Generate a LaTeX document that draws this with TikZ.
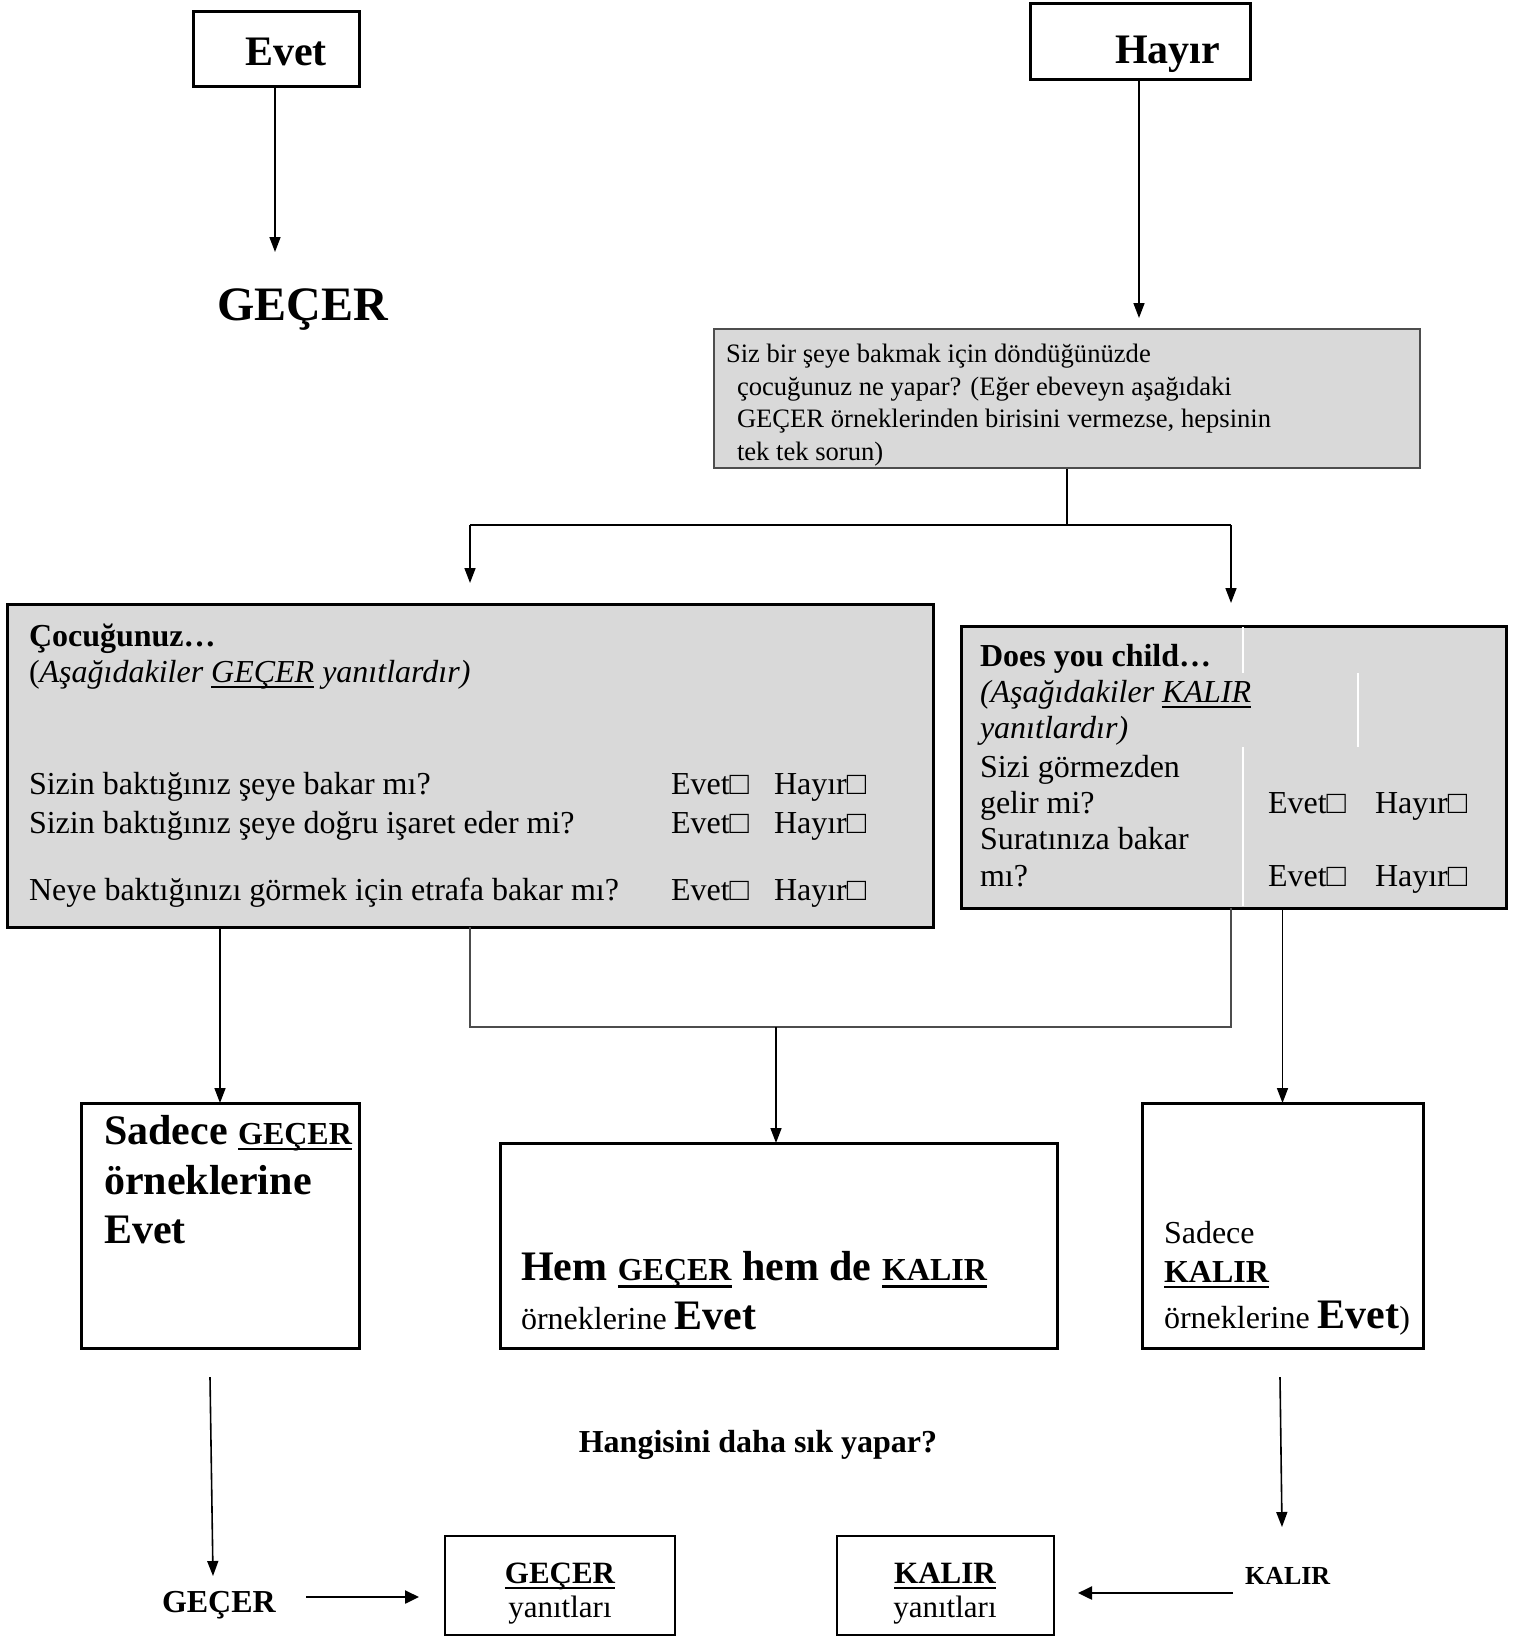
\documentclass[tikz,border=0pt]{standalone}
\usepackage{fontspec}
\setmainfont{Liberation Serif}
\usetikzlibrary{arrows.meta,fit}
\definecolor{boxgray}{HTML}{D9D9D9}
\definecolor{framegray}{HTML}{4D4D4D}
% font size in pt (1 px of the drawing = 0.5pt)
\newcommand{\fsz}[1]{\fontsize{#1}{#1}\selectfont}
% underline with a rule placed a fixed distance below the baseline
\newcommand{\ulin}[2][0.06em]{\setbox0\hbox{#2}\rlap{\rule[-0.19em]{\wd0}{#1}}\box0\relax}
\newcommand{\chk}{□}
\begin{document}
\begin{tikzpicture}[x=0.5pt,y=-0.5pt,
  box/.style={draw, line width=1.5pt, inner sep=0pt, outer sep=0pt},
  gbox/.style={box, fill=boxgray},
  sbox/.style={draw, line width=1.2pt, inner sep=0pt, outer sep=0pt},
  txt/.style={anchor=base west, inner sep=0pt, outer sep=0pt},
  ctxt/.style={anchor=base, inner sep=0pt, outer sep=0pt},
  conn/.style={line width=0.8pt},
  lconn/.style={line width=0.6pt, black!70},
  arr/.style={conn, -{Triangle[length=7.5pt,width=5.5pt]}},
  barr/.style={line width=1.2pt, -{Triangle[length=7pt,width=6.5pt]}},
  body/.style={txt, font=\fsz{16}},
]
\useasboundingbox (0,0) rectangle (1516,1638);
\clip (0,0) rectangle (1516,1638);

% ---- top: Evet branch
\node[box, fit={(193,11) (359,86)}] (evetbox) {};
\node[txt, font=\fsz{21}\bfseries] (evet) at (245,65) {Evet};
\node[txt, font=\fsz{24}\bfseries] (gecer0) at (217,320) {GEÇER};
\coordinate (evettip) at (275,252);
\draw[arr] (evetbox.south -| evettip) -- (evettip);

% ---- top: Hayır branch
\node[box, fit={(1030,3) (1250,79)}] (hayirbox) {};
\node[txt, font=\fsz{21}\bfseries] (hayir) at (1115,63) {Hayır};
\coordinate (hayirtip) at (1139,318);
\draw[arr] (hayirbox.south -| hayirtip) -- (hayirtip);

% ---- question box
\node[draw=framegray, fill=boxgray, line width=1pt, inner sep=0pt, fit={(714,329) (1420,468)}] (q1) {};
\begin{scope}[every node/.style={txt, font=\fsz{13.3}}]
\node (q1a) at (726,362) {Siz bir şeye bakmak için döndüğünüzde};
\node (q1b) at (737,395) {çocuğunuz ne yapar? (Eğer ebeveyn aşağıdaki};
\node (q1c) at (737,427) {GEÇER örneklerinden birisini vermezse, hepsinin};
\node (q1d) at (737,460) {tek tek sorun)};
\end{scope}

% ---- split into the two question groups
\coordinate (s0) at (1067,525);
\coordinate (sl) at (470,525);
\coordinate (sr) at (1231,525);
\coordinate (tl) at (470,583);
\coordinate (tr) at (1231,603);
\draw[conn] (q1.south -| s0) -- (s0);
\draw[conn] (sl) -- (sr);
\draw[arr] (sl) -- (tl);
\draw[arr] (sr) -- (tr);

% ---- GEÇER questions
\node[gbox, fit={(7,604) (933,927)}] (q2) {};
\node[txt, font=\fsz{16}\bfseries] (q2h) at (29,646) {Çocuğunuz…};
\node[body] (q2s) at (29,682) {(\textit{Aşağıdakiler \ulin[0.05em]{GEÇER} yanıtlardır)}};
\node[body] (q2r1) at (29,794) {Sizin baktığınız şeye bakar mı?};
\node[body] (q2r2) at (29,833) {Sizin baktığınız şeye doğru işaret eder mi?};
\node[body] (q2r3) at (29,900) {Neye baktığınızı görmek için etrafa bakar mı?};
\foreach \i/\yy in {1/794, 2/833, 3/900} {
  \node[body] (q2e\i) at (671,\yy) {Evet\chk};
  \node[body] (q2h\i) at (774,\yy) {Hayır\chk};
}

% ---- KALIR questions
\node[gbox, fit={(961,626) (1506,908)}] (q3) {};
\draw[white, line width=0.6pt] (1243,627) -- (1243,673) (1358,673) -- (1358,747) (1243,747) -- (1243,906);
\node[txt, font=\fsz{16}\bfseries] (q3h) at (980,666) {Does you child…};
\node[body, font=\fsz{16}\itshape] (q3s1) at (980,702) {(Aşağıdakiler \ulin[0.05em]{KALIR}};
\node[body, font=\fsz{16}\itshape] (q3s2) at (980,738) {yanıtlardır)};
\node[body] (q3r1a) at (980,777) {Sizi görmezden};
\node[body] (q3r1b) at (980,813) {gelir mi?};
\node[body] (q3r2a) at (980,849) {Suratınıza bakar};
\node[body] (q3r2b) at (980,886) {mı?};
\foreach \i/\yy in {1/813, 2/886} {
  \node[body] (q3e\i) at (1268,\yy) {Evet\chk};
  \node[body] (q3h\i) at (1375,\yy) {Hayır\chk};
}

% ---- outcome boxes
\node[box, fit={(81,1103) (359,1348)}] (sg) {};
\node[txt, font=\fsz{21}\bfseries] (sg1) at (104,1144) {Sadece {\fsz{16}\ulin{GEÇER}}};
\node[txt, font=\fsz{21}\bfseries] (sg2) at (104,1194) {örneklerine};
\node[txt, font=\fsz{21}\bfseries] (sg3) at (104,1243) {Evet};

\node[box, fit={(500,1143) (1057,1348)}] (both) {};
\node[txt, font=\fsz{21}\bfseries] (both1) at (521,1280) {Hem \ulin{\fsz{16}GEÇER} hem de \ulin{\fsz{16}KALIR}};
\node[txt, font=\fsz{16}] (both2) at (521,1329) {örneklerine {\fsz{21}\bfseries Evet}};

\node[box, fit={(1142,1103) (1423,1348)}] (sk) {};
\node[body] (sk1) at (1164,1243) {Sadece};
\node[txt, font=\fsz{16}\bfseries] (sk2) at (1164,1282) {\ulin{KALIR}};
\node[body] (sk3) at (1164,1328) {örneklerine {\fsz{21}\bfseries Evet})};

% ---- connectors to the outcome boxes
\coordinate (ml) at (470,1027);
\coordinate (mr) at (1231,1027);
\coordinate (mm) at (776,1027);
\draw[arr] (q2.south -| sg.north) -- (sg.north);
\draw[lconn] (q2.south -| ml) -- (ml) -- (mr) -- (q3.south -| mr);
\draw[arr] (mm) -- (mm |- both.north);
\draw[arr] (q3.south -| sk.north) -- (sk.north);

% ---- final question
\node[ctxt, font=\fsz{16}\bfseries] (which) at (758,1452) {Hangisini daha sık yapar?};

\coordinate (a1s) at (210,1377);
\coordinate (a1e) at (213,1576);
\draw[arr] (a1s) -- (a1e);
\coordinate (a2s) at (1280,1377);
\coordinate (a2e) at (1282,1527);
\draw[arr] (a2s) -- (a2e);

\node[txt, font=\fsz{16}\bfseries] (gecer1) at (162,1612) {GEÇER};
\node[txt, font=\fsz{13}\bfseries] (kalir1) at (1245,1584) {KALIR};

\node[sbox, fit={(445,1536) (675,1635)}] (ga) {};
\node[ctxt, font=\fsz{15.5}\bfseries] (ga1) at (560,1583) {\ulin{GEÇER}};
\node[ctxt, font=\fsz{15.5}] (ga2) at (560,1617) {yanıtları};

\node[sbox, fit={(837,1536) (1054,1635)}] (ka) {};
\node[ctxt, font=\fsz{15.5}\bfseries] (ka1) at (945,1583) {\ulin{KALIR}};
\node[ctxt, font=\fsz{15.5}] (ka2) at (945,1617) {yanıtları};

\coordinate (g1) at (306,1597);
\coordinate (g2) at (419,1597);
\draw[barr] (g1) -- (g2);
\coordinate (k1) at (1233,1593);
\coordinate (k2) at (1078,1593);
\draw[barr] (k1) -- (k2);
\end{tikzpicture}
\end{document}
